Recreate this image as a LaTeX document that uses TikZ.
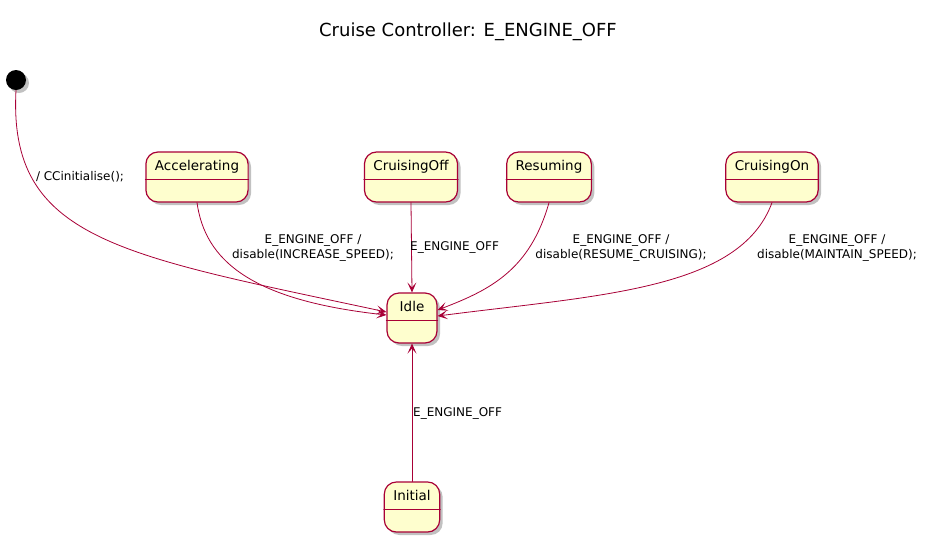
\documentclass[tikz,border=0pt]{standalone}
\usepackage{fontspec}
\setmainfont{DejaVu Sans}
\usetikzlibrary{arrows.meta,shadows}
\definecolor{umlred}{HTML}{A80036}
\definecolor{umlfill}{HTML}{FEFECE}
\begin{document}
\begin{tikzpicture}[x=1pt,y=-1pt,line cap=round,line join=round,
  >={Stealth[length=10pt,width=9pt,inset=5pt]},
  state/.style={draw=umlred,fill=umlfill,line width=1.2pt,rounded corners=12pt,
    minimum width=50pt,inner xsep=9pt,inner ysep=4pt,text height=14pt,text depth=28pt,
    font=\fontsize{13.5}{16}\selectfont,
    drop shadow={shadow xshift=3pt,shadow yshift=-3pt,opacity=0.35,fill=black!70}},
  lbl/.style={font=\fontsize{12}{15}\selectfont,align=center,inner sep=1pt},
  trans/.style={->,draw=umlred,line width=0.8pt}]
\useasboundingbox (0,0) rectangle (934,542);
\node[font=\fontsize{18}{22}\selectfont] (title) at (468,32) {Cruise Controller: E\_ENGINE\_OFF};
\node[circle,fill=black,minimum size=20pt,inner sep=0pt,
  drop shadow={shadow xshift=3pt,shadow yshift=-3pt,opacity=0.35,fill=black!70}] (start) at (16,80) {};
\node[state] (acc) at (197,177) {Accelerating};
\node[state] (coff) at (411,177) {CruisingOff};
\node[state] (res) at (549,177) {Resuming};
\node[state] (con) at (772,177) {CruisingOn};
\node[state] (idle) at (412,318) {Idle};
\node[state] (init) at (412,507) {Initial};
\foreach \s in {acc,coff,res,con,idle,init}
  \draw[umlred,line width=0.9pt] ([yshift=-2pt]\s.west)--([yshift=-2pt]\s.east);
\draw[trans] (start.south) .. controls (8,240) and (120,255) .. ([yshift=6pt]idle.west);
\draw[trans] (acc.south) .. controls (205,260) and (250,300) .. ([yshift=3pt]idle.west);
\draw[trans] (coff.south) -- (idle.north);
\draw[trans] (res.south) .. controls (530,270) and (490,290) .. ([yshift=8pt]idle.east);
\draw[trans] (con.south) .. controls (740,290) and (600,295) .. ([yshift=2pt]idle.east);
\draw[trans] (init.north) -- (idle.south);
\node[lbl] (l0) at (80,177) {/ CCinitialise();};
\node[lbl] (l1) at (313,248) {E\_ENGINE\_OFF /\\disable(INCREASE\_SPEED);};
\node[lbl,anchor=west] (l2) at (409,247) {E\_ENGINE\_OFF};
\node[lbl] (l3) at (621,248) {E\_ENGINE\_OFF /\\disable(RESUME\_CRUISING);};
\node[lbl] (l4) at (837,248) {E\_ENGINE\_OFF /\\disable(MAINTAIN\_SPEED);};
\node[lbl,anchor=west] (l5) at (412,413) {E\_ENGINE\_OFF};
\end{tikzpicture}
\end{document}
